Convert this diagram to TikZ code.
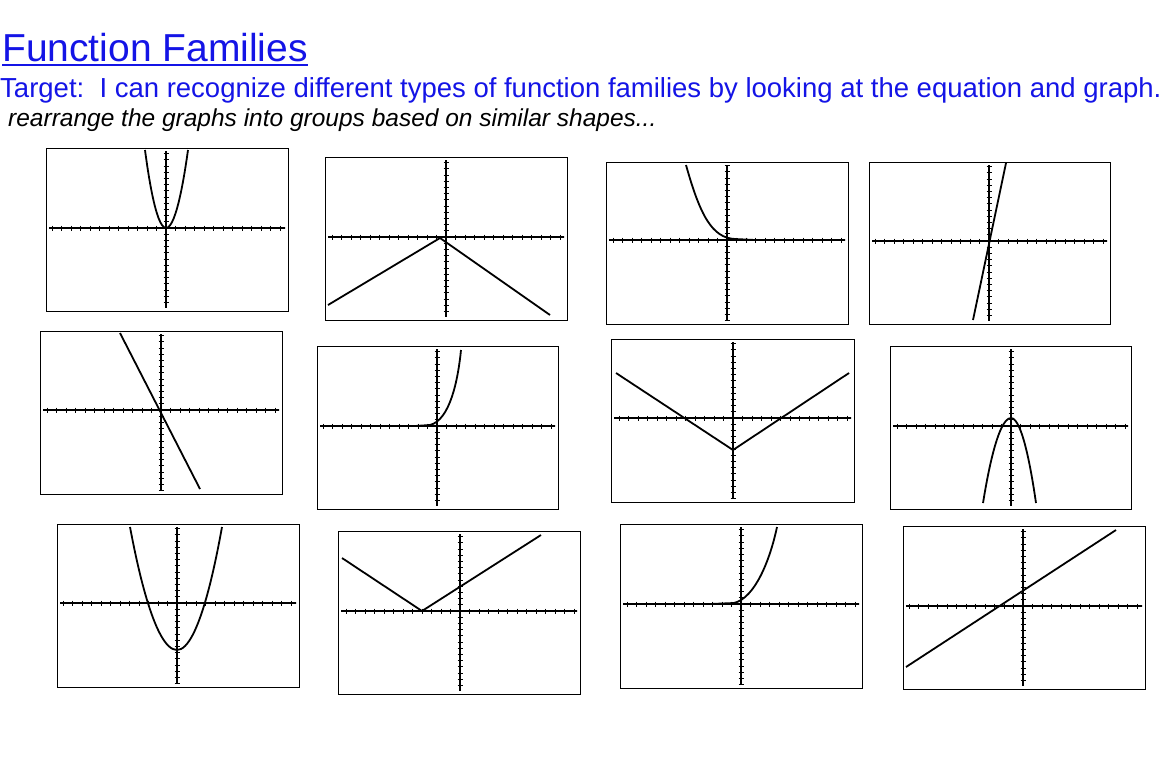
\documentclass[tikz,border=0pt]{standalone}
\usepackage{fontspec}
\setmainfont{Liberation Sans}
\definecolor{titleblue}{RGB}{20,20,230}
% box, axes and ticks of one calculator screen
\newcommand{\calcscreen}[6]{%
  \draw[frame] (#1,#2) rectangle (#3,#4);
  \begin{scope}
    \clip (#1+3,#2+3) rectangle (#3-3,#4-4);
    \draw[axis] (#1,#6) -- (#3,#6);
    \draw[axis] (#5,#2) -- (#5,#4);
    \foreach \k in {-25,...,25} {
      \draw[tick] (#5+\k*9.5,#6-2.5) -- (#5+\k*9.5,#6+2.5);
      \draw[tick] (#5-2.5,#6+\k*6.2) -- (#5+2.5,#6+\k*6.2);
    }
  \end{scope}}
\begin{document}
\begin{tikzpicture}[x=1pt,y=-1pt,
  frame/.style = {line width=1pt},
  axis/.style = {line width=1.8pt},
  tick/.style = {line width=1pt},
  curve/.style = {line width=1.8pt}]
  \useasboundingbox (0,0) rectangle (1175,764);

  % headings
  \node[anchor=base west, inner sep=0, text=titleblue, font=\fontsize{39}{44}\selectfont] (title) at (2,61) {Function Families};
  \draw[titleblue, line width=2pt] (title.base west) ++(0,4) -- ([yshift=-4pt]title.base east);
  \node[anchor=base west, inner sep=0, text=titleblue, font=\fontsize{27.5}{32}\selectfont] (target) at (0,97) {Target:\ \ I can recognize different types of function families by looking at the equation and graph.};
  \node[anchor=base west, inner sep=0, font=\itshape\fontsize{24.5}{28}\selectfont] (task) at (8,126) {rearrange the graphs into groups based on similar shapes...};

  % Row 1
  \calcscreen{46}{148}{288}{311}{166}{228}
  \draw[curve] (145,150) parabola bend (166,228) (188,150);

  \calcscreen{325}{157}{567}{320}{446}{237}
  \draw[curve] (328,305) -- (440,238) -- (550,315);

  \calcscreen{606}{162}{848}{324}{727}{240}
  \draw[curve] (686,165) .. controls (700,215) and (712,238) .. (735,239) -- (755,240);

  \calcscreen{869}{162}{1110}{324}{989}{241}
  \draw[curve] (973,320) -- (1006,163);

  % Row 2
  \calcscreen{40}{331}{282}{494}{161}{410}
  \draw[curve] (120,333) -- (200,489);

  \calcscreen{317}{346}{558}{509}{437}{426}
  \draw[curve] (415,426) -- (430,425) .. controls (450,420) and (458,380) .. (461,350);

  \calcscreen{611}{339}{854}{502}{733}{418}
  \draw[curve] (616,373) -- (733,450) -- (849,373);

  \calcscreen{890}{346}{1131}{509}{1011}{426}
  \draw[curve] (983,503) parabola bend (1011,418) (1036,503);

  % Row 3
  \calcscreen{57}{524}{299}{687}{177}{603}
  \draw[curve] (130,527) parabola bend (177,650) (222,527);

  \calcscreen{338}{531}{580}{694}{460}{611}
  \draw[curve] (342,558) -- (422,611) -- (541,535);

  \calcscreen{620}{524}{862}{688}{741}{604}
  \draw[curve] (710,604) -- (734,603) .. controls (755,598) and (770,560) .. (777,527);

  \calcscreen{903}{526}{1145}{689}{1023}{606}
  \draw[curve] (906,667) -- (1116,530);
\end{tikzpicture}
\end{document}
